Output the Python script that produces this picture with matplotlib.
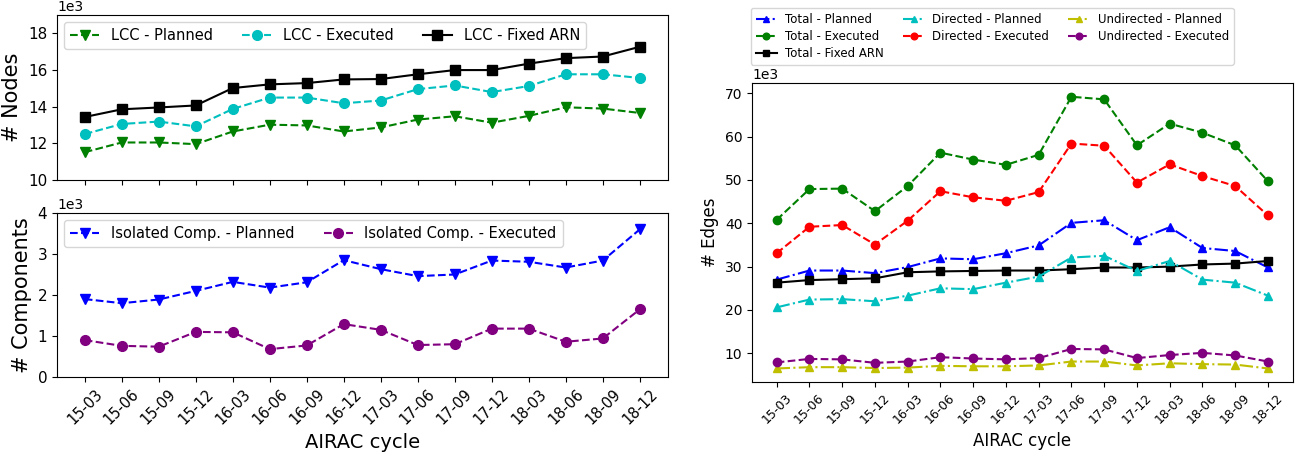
import numpy as np
import matplotlib
matplotlib.use('Agg')
import matplotlib.pyplot as plt

cycles = ['15-03', '15-06', '15-09', '15-12', '16-03', '16-06', '16-09', '16-12',
          '17-03', '17-06', '17-09', '17-12', '18-03', '18-06', '18-09', '18-12']

# nodes, in thousands
lcc_planned = [11.52, 12.05, 12.05, 11.96, 12.65, 13.02, 12.98, 12.65,
               12.87, 13.3, 13.48, 13.13, 13.5, 13.97, 13.9, 13.66]
lcc_executed = [12.51, 13.06, 13.19, 12.93, 13.88, 14.5, 14.5, 14.19,
                14.34, 14.96, 15.16, 14.8, 15.13, 15.77, 15.77, 15.57]
lcc_fixed = [13.44, 13.86, 13.96, 14.07, 15.02, 15.22, 15.29, 15.49,
             15.51, 15.77, 16.0, 16.0, 16.35, 16.65, 16.74, 17.27]

# isolated components, in thousands
iso_planned = [1.9, 1.8, 1.89, 2.1, 2.32, 2.18, 2.31, 2.85,
               2.63, 2.46, 2.5, 2.84, 2.81, 2.67, 2.84, 3.6]
iso_executed = [0.9, 0.76, 0.74, 1.1, 1.09, 0.68, 0.77, 1.29,
                1.15, 0.78, 0.8, 1.18, 1.18, 0.86, 0.94, 1.65]

# edges, in thousands
tot_planned = [27.0, 29.1, 29.1, 28.5, 29.9, 31.9, 31.7, 33.1,
               34.9, 40.1, 40.7, 36.1, 39.1, 34.3, 33.6, 29.8]
tot_executed = [40.8, 47.9, 48.0, 42.8, 48.6, 56.3, 54.7, 53.5,
                55.8, 69.2, 68.6, 58.0, 63.0, 60.9, 58.0, 49.7]
tot_fixed = [26.3, 26.9, 27.1, 27.3, 28.7, 28.9, 29.0, 29.1,
             29.1, 29.4, 29.8, 29.8, 30.0, 30.5, 30.7, 31.3]
dir_planned = [20.6, 22.4, 22.5, 22.0, 23.3, 25.0, 24.8, 26.3,
               27.7, 32.1, 32.5, 29.0, 31.3, 27.0, 26.3, 23.3]
dir_executed = [33.1, 39.2, 39.6, 35.1, 40.6, 47.4, 46.0, 45.2,
                47.2, 58.4, 57.9, 49.4, 53.6, 50.9, 48.6, 41.8]
und_planned = [6.5, 6.8, 6.8, 6.6, 6.7, 7.1, 7.0, 7.0,
               7.2, 8.1, 8.1, 7.2, 7.7, 7.5, 7.4, 6.5]
und_executed = [7.9, 8.7, 8.6, 7.8, 8.1, 9.1, 8.8, 8.6,
                8.9, 11.0, 10.9, 8.9, 9.6, 10.1, 9.5, 8.1]

x = np.arange(len(cycles))
k = lambda v: np.array(v) * 1000

fig = plt.figure(figsize=(12.99, 4.57), dpi=100)
ax1 = fig.add_axes([0.0439, 0.606, 0.470, 0.361])
ax2 = fig.add_axes([0.0439, 0.175, 0.470, 0.359])
ax3 = fig.add_axes([0.579, 0.164, 0.416, 0.654])

# Nodes
ax1.plot(x, k(lcc_planned), 'g--v', ms=7, label='LCC - Planned')
ax1.plot(x, k(lcc_executed), 'c--o', ms=7, label='LCC - Executed')
ax1.plot(x, k(lcc_fixed), 'k-s', ms=7, label='LCC - Fixed ARN')
ax1.set_ylim(10000, 19000)
ax1.set_yticks([10000, 12000, 14000, 16000, 18000])
ax1.set_ylabel('# Nodes', fontsize=15)
ax1.legend(loc='upper left', ncol=3, fontsize=10.5)
ax1.set_xticks(x)
ax1.set_xticklabels([])

# Components
ax2.plot(x, k(iso_planned), 'b--v', ms=7, label='Isolated Comp. - Planned')
ax2.plot(x, k(iso_executed), '--o', color='purple', ms=7,
         label='Isolated Comp. - Executed')
ax2.set_ylim(0, 4000)
ax2.set_yticks([0, 1000, 2000, 3000, 4000])
ax2.set_ylabel('# Components', fontsize=15)
ax2.legend(loc='upper left', ncol=2, fontsize=10.5)
ax2.set_xticks(x)
ax2.set_xticklabels(cycles, rotation=45, fontsize=10.5)
ax2.set_xlabel('AIRAC cycle', fontsize=14)

for ax in (ax1, ax2):
    ax.set_xlim(-0.75, len(cycles) - 0.25)
    ax.ticklabel_format(axis='y', style='sci', scilimits=(3, 3))
    ax.tick_params(axis='y', labelsize=11)

# Edges
ax3.plot(x, k(tot_planned), 'b-.^', ms=6, label='Total - Planned')
ax3.plot(x, k(tot_executed), 'g--o', ms=6, label='Total - Executed')
ax3.plot(x, k(tot_fixed), 'k-s', ms=6, label='Total - Fixed ARN')
ax3.plot(x, k(dir_planned), 'c-.^', ms=6, label='Directed - Planned')
ax3.plot(x, k(dir_executed), 'r--o', ms=6, label='Directed - Executed')
ax3.plot(x, k(und_planned), 'y-.^', ms=6, label='Undirected - Planned')
ax3.plot(x, k(und_executed), '--o', color='purple', ms=6,
         label='Undirected - Executed')
ax3.set_xticks(x)
ax3.set_xticklabels(cycles, rotation=45, fontsize=9)
ax3.set_xlabel('AIRAC cycle', fontsize=12)
ax3.set_ylabel('# Edges', fontsize=12)
ax3.set_xlim(-0.75, len(cycles) - 0.25)
ax3.ticklabel_format(axis='y', style='sci', scilimits=(3, 3))
ax3.tick_params(axis='y', labelsize=10)
ax3.legend(loc='upper left', ncol=3, fontsize=8.5, markerscale=0.8,
           labelspacing=0.35, handlelength=1.8, handletextpad=0.7,
           columnspacing=1.6,
           bbox_to_anchor=(751 / 1299, 1 - 8 / 457),
           bbox_transform=fig.transFigure, borderaxespad=0)

fig.savefig('out.png', dpi=100)
